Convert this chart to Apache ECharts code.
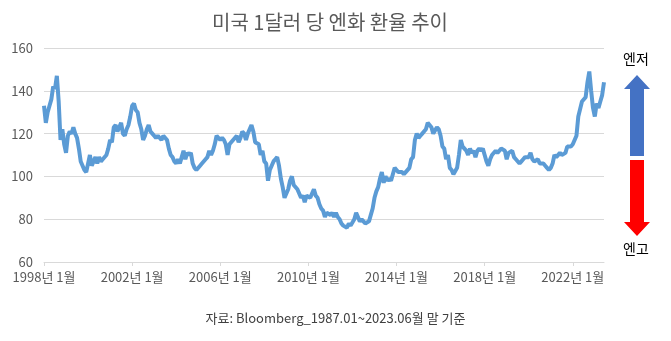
<!DOCTYPE html>
<html><head><meta charset="utf-8">
<script src="https://cdn.jsdelivr.net/npm/echarts@6/dist/echarts.min.js"></script>
<style>html,body{margin:0;padding:0;background:#fff}#c{width:671px;height:341px}</style>
</head><body><div id="c"></div>
<script>
const title = '미국 1달러 당 엔화 환율 추이';
const source = '자료: Bloomberg_1987.01~2023.06월 말 기준';
const upLabel = '엔저';
const downLabel = '엔고';
const tickLabels = ['1998년 1월','2002년 1월','2006년 1월','2010년 1월','2014년 1월','2018년 1월','2022년 1월'];
const yTicks = [60, 80, 100, 120, 140, 160];
const startYear = 1998;
// monthly USD/JPY (yen per 1 dollar)
const y1998 = [133, 125, 130, 133, 136, 142, 141, 147, 135, 117, 122, 115];
const y1999 = [111, 119, 121, 120, 123, 120, 118, 113, 107, 105, 103, 102];
const y2000 = [106, 110, 105, 107, 109, 106, 109, 107, 108, 108, 110, 113];
const y2001 = [117, 116, 123, 124, 121, 123, 125, 120, 119, 122, 124, 128];
const y2002 = [133, 134, 131, 130, 125, 122, 117, 119, 122, 124, 121, 120];
const y2003 = [119, 118, 119, 119, 117, 119, 119, 117, 113, 110, 109, 107];
const y2004 = [106, 108, 106, 109, 112, 108, 111, 110, 111, 106, 104, 103];
const y2005 = [103, 105, 106, 106, 108, 109, 112, 110, 112, 115, 119, 119];
const y2006 = [117, 118, 117, 115, 110, 115, 115, 117, 117, 119, 116, 118];
const y2007 = [121, 120, 117, 120, 122, 124, 121, 116, 116, 115, 110, 112];
const y2008 = [107, 106, 98, 103, 105, 107, 108, 109, 105, 99, 95, 90];
const y2009 = [90, 94, 98, 100, 96, 96, 94, 94, 90, 91, 88, 91];
const y2010 = [91, 90, 92, 94, 91, 90, 87, 85, 84, 81, 83, 83];
const y2011 = [82, 83, 81, 83, 81, 80, 78, 77, 77, 76, 78, 77];
const y2012 = [77, 80, 83, 81, 79, 80, 79, 78, 78, 79, 82, 85];
const y2013 = [90, 93, 95, 99, 102, 97, 100, 98, 99, 98, 101, 104];
const y2014 = [103, 102, 102, 102, 101, 102, 102, 104, 108, 109, 117, 120];
const y2015 = [118, 119, 120, 120, 122, 125, 124, 123, 120, 120, 123, 122];
const y2016 = [119, 114, 113, 108, 110, 104, 103, 101, 101, 104, 110, 117];
const y2017 = [114, 113, 112, 110, 113, 111, 112, 109, 112, 113, 112, 113];
const y2018 = [110, 107, 105, 108, 110, 110, 112, 111, 112, 113, 113, 112];
const y2019 = [108, 111, 111, 112, 109, 108, 108, 106, 107, 108, 109, 109];
const y2020 = [109, 111, 108, 107, 107, 108, 106, 106, 106, 105, 104, 103];
const y2021 = [104, 106, 110, 109, 109, 111, 110, 110, 111, 114, 114, 114];
const y2022 = [115, 115, 119, 128, 128, 135, 135, 137, 144, 149, 140, 132];
const y2023 = [128, 134, 132, 135, 138, 144];

const years = [y1998,y1999,y2000,y2001,y2002,y2003,y2004,y2005,y2006,y2007,y2008,y2009,y2010,
  y2011,y2012,y2013,y2014,y2015,y2016,y2017,y2018,y2019,y2020,y2021,y2022,y2023];
const categories = [];
const values = [];
years.forEach((arr, i) => arr.forEach((v, m) => {
  categories.push((startYear + i) + '년 ' + (m + 1) + '월');
  values.push(v);
}));

const FONT = '"Noto Sans CJK KR", "Noto Sans", sans-serif';
const chart = echarts.init(document.getElementById('c'), null, {renderer: 'canvas'});
const showTick = (idx, val) => tickLabels.indexOf(val) >= 0;

const ax = 637;
chart.setOption({
  animation: false,
  backgroundColor: '#fff',
  title: {
    text: title, left: 325, top: 7, textAlign: 'center',
    textStyle: {fontFamily: FONT, fontSize: 20, fontWeight: 'normal', color: '#595959'}
  },
  grid: {left: 44, right: 67, top: 48, bottom: 79},
  xAxis: {
    type: 'category', data: categories, boundaryGap: false,
    axisLine: {lineStyle: {color: '#d9d9d9'}},
    axisTick: {show: true, interval: showTick, length: 4, lineStyle: {color: '#d9d9d9'}},
    axisLabel: {interval: showTick, color: '#595959', fontFamily: FONT, fontSize: 13, margin: 9}
  },
  yAxis: {
    type: 'value', min: yTicks[0], max: yTicks[yTicks.length - 1], interval: 20,
    axisLine: {show: false}, axisTick: {show: false},
    axisLabel: {color: '#595959', fontFamily: FONT, fontSize: 13, margin: 11},
    splitLine: {lineStyle: {color: '#d9d9d9'}}
  },
  series: [{
    type: 'line', data: values, showSymbol: false,
    lineStyle: {color: '#5b9bd5', width: 4}, itemStyle: {color: '#5b9bd5'}
  }],
  graphic: [
    {type: 'polygon', shape: {points: [[ax, 75], [ax + 13, 89], [ax + 7, 89], [ax + 7, 156], [ax - 7, 156], [ax - 7, 89], [ax - 13, 89]]},
     style: {fill: '#4472c4'}},
    {type: 'polygon', shape: {points: [[ax - 7, 160], [ax + 7, 160], [ax + 7, 222], [ax + 13, 222], [ax, 236], [ax - 13, 222], [ax - 7, 222]]},
     style: {fill: '#ff0000'}},
    {type: 'text', left: ax - 14, top: 52, style: {text: upLabel, font: '14px ' + FONT, fill: '#000'}},
    {type: 'text', left: ax - 14, top: 242, style: {text: downLabel, font: '14px ' + FONT, fill: '#000'}},
    {type: 'text', left: 'center', top: 312, style: {text: source, font: '13px ' + FONT, fill: '#404040'}}
  ]
});
</script></body></html>
